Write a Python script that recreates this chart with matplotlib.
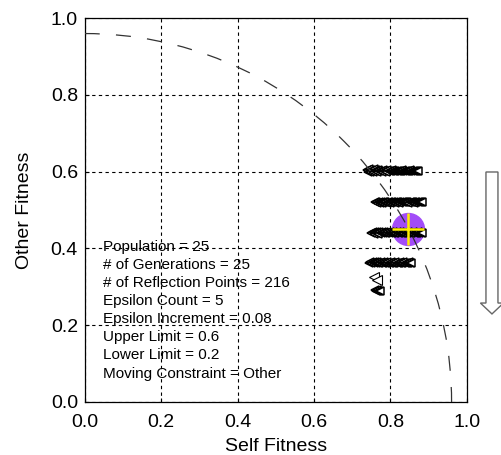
import matplotlib
matplotlib.use("Agg")
from matplotlib import pyplot as plt
from matplotlib.patches import Arc, FancyArrow

plt.rcParams['font.family'] = ['Liberation Sans', 'DejaVu Sans']

# reflection points, one row per epsilon level
row1_x = [0.738, 0.741, 0.744, 0.747, 0.750, 0.753, 0.756, 0.759, 0.762, 0.765,
          0.768, 0.771, 0.774, 0.777, 0.780, 0.783, 0.786, 0.789, 0.792, 0.795,
          0.798, 0.801, 0.804, 0.807, 0.810, 0.813, 0.816, 0.819, 0.822, 0.825,
          0.828, 0.831, 0.834, 0.837, 0.840, 0.843, 0.846, 0.849, 0.852, 0.855,
          0.858, 0.861, 0.864, 0.867, 0.870, 0.872]
row1_y = [0.604, 0.598, 0.607, 0.600, 0.605, 0.599, 0.606, 0.601, 0.604, 0.600,
          0.605, 0.601, 0.603, 0.600, 0.605, 0.602, 0.603, 0.600, 0.604, 0.602,
          0.603, 0.601, 0.604, 0.602, 0.603, 0.602, 0.603, 0.602, 0.603, 0.603,
          0.602, 0.604, 0.603, 0.602, 0.603, 0.603, 0.602, 0.603, 0.604, 0.603,
          0.602, 0.603, 0.603, 0.602, 0.603, 0.603]
row2_x = [0.760, 0.763, 0.766, 0.769, 0.772, 0.775, 0.778, 0.781, 0.784, 0.787,
          0.790, 0.793, 0.796, 0.799, 0.802, 0.805, 0.808, 0.811, 0.814, 0.817,
          0.820, 0.823, 0.826, 0.829, 0.832, 0.835, 0.838, 0.841, 0.844, 0.847,
          0.850, 0.853, 0.856, 0.859, 0.862, 0.865, 0.868, 0.871, 0.874, 0.877,
          0.880, 0.883]
row2_y = [0.520, 0.522, 0.518, 0.521, 0.519, 0.522, 0.518, 0.521, 0.520, 0.522,
          0.519, 0.521, 0.520, 0.519, 0.521, 0.520, 0.521, 0.519, 0.520, 0.521,
          0.520, 0.519, 0.521, 0.520, 0.520, 0.521, 0.520, 0.520, 0.521, 0.519,
          0.520, 0.521, 0.520, 0.520, 0.519, 0.521, 0.520, 0.520, 0.520, 0.521,
          0.520, 0.520]
row3_x = [0.750, 0.753, 0.756, 0.759, 0.762, 0.765, 0.768, 0.771, 0.774, 0.777,
          0.780, 0.783, 0.786, 0.789, 0.792, 0.795, 0.798, 0.801, 0.804, 0.807,
          0.810, 0.813, 0.816, 0.819, 0.822, 0.825, 0.828, 0.831, 0.834, 0.837,
          0.840, 0.843, 0.846, 0.849, 0.852, 0.855, 0.858, 0.861, 0.864, 0.867,
          0.870, 0.873, 0.876, 0.879, 0.883]
row3_y = [0.441, 0.443, 0.439, 0.442, 0.440, 0.443, 0.439, 0.442, 0.441, 0.443,
          0.440, 0.442, 0.441, 0.440, 0.442, 0.441, 0.442, 0.440, 0.441, 0.442,
          0.441, 0.440, 0.442, 0.441, 0.441, 0.442, 0.441, 0.441, 0.440, 0.442,
          0.441, 0.441, 0.442, 0.440, 0.441, 0.441, 0.442, 0.441, 0.441, 0.440,
          0.441, 0.442, 0.441, 0.441, 0.441]
row4_x = [0.744, 0.747, 0.750, 0.753, 0.756, 0.759, 0.762, 0.765, 0.768, 0.771,
          0.774, 0.777, 0.780, 0.783, 0.786, 0.789, 0.792, 0.795, 0.798, 0.801,
          0.804, 0.807, 0.810, 0.813, 0.816, 0.819, 0.822, 0.825, 0.828, 0.831,
          0.834, 0.837, 0.840, 0.843, 0.846, 0.849, 0.852, 0.854]
row4_y = [0.363, 0.365, 0.361, 0.364, 0.362, 0.365, 0.361, 0.364, 0.363, 0.362,
          0.364, 0.363, 0.362, 0.364, 0.363, 0.362, 0.364, 0.363, 0.363, 0.364,
          0.363, 0.363, 0.362, 0.364, 0.363, 0.363, 0.362, 0.364, 0.363, 0.363,
          0.364, 0.363, 0.362, 0.363, 0.363, 0.364, 0.363, 0.363]
row5_x = [0.756, 0.766]
row5_y = [0.325, 0.318]
row6_x = [0.760, 0.762, 0.764, 0.766, 0.768, 0.770, 0.772]
row6_y = [0.293, 0.290, 0.288, 0.291, 0.289, 0.290, 0.289]

best_x, best_y = 0.845, 0.452
radius = 0.96

info = ["Population = 25",
        "# of Generations = 25",
        "# of Reflection Points = 216",
        "Epsilon Count = 5",
        "Epsilon Increment = 0.08",
        "Upper Limit = 0.6",
        "Lower Limit = 0.2",
        "Moving Constraint = Other"]

fig = plt.figure(figsize=(5.02, 4.55), dpi=100)
ax = fig.add_axes([0.169, 0.1165, 0.761, 0.8435])

ax.plot(best_x, best_y, 'o', ms=23, color='#a24cf8', mec='#a24cf8', zorder=2)

for xs, ys in [(row1_x, row1_y), (row2_x, row2_y), (row3_x, row3_y),
               (row4_x, row4_y), (row6_x, row6_y)]:
    ax.plot(xs, ys, ls='none', marker='<', ms=6, mfc='white', mec='black',
            mew=1.1, zorder=3)
ax.plot(row5_x, row5_y, ls='none', marker='<', ms=6.5, mfc='white', mec='black',
        mew=0.8, zorder=3)

ax.add_patch(Arc((0, 0), 2 * radius, 2 * radius, theta1=0, theta2=90,
                 color='#333333', lw=0.9, ls=(0, (12, 13)), zorder=4))

ax.plot(best_x, best_y, '+', ms=23, mew=1.8, color='#ffee00', zorder=5)

ax.text(0.047, 0.422, "\n".join(info), transform=ax.transData, fontsize=11,
        va='top', ha='left', linespacing=1.37, zorder=6)

ax.set_xlim(0, 1)
ax.set_ylim(0, 1)
ax.set_xticks([0, 0.2, 0.4, 0.6, 0.8, 1.0])
ax.set_yticks([0, 0.2, 0.4, 0.6, 0.8, 1.0])
ax.set_xticklabels(["0.0", "0.2", "0.4", "0.6", "0.8", "1.0"])
ax.set_yticklabels(["0.0", "0.2", "0.4", "0.6", "0.8", "1.0"])
ax.tick_params(direction='in', labelsize=14, length=3, pad=5)
ax.tick_params(axis='x', pad=9)
ax.grid(True, color='black', ls=(0, (3, 3)), lw=0.8)
for s in ax.spines.values():
    s.set_linewidth(0.9)
ax.set_xlabel("Self Fitness", fontsize=14, labelpad=5)
ax.set_ylabel("Other Fitness", fontsize=14, labelpad=13)

# downward arrow beside the axes
fig.add_artist(FancyArrow(0.980, 0.622, 0, -0.312, width=0.0239, head_width=0.046,
                          head_length=0.024, length_includes_head=True,
                          transform=fig.transFigure, fc='white', ec='#666666', lw=1))

fig.savefig("out.png", dpi=100)
